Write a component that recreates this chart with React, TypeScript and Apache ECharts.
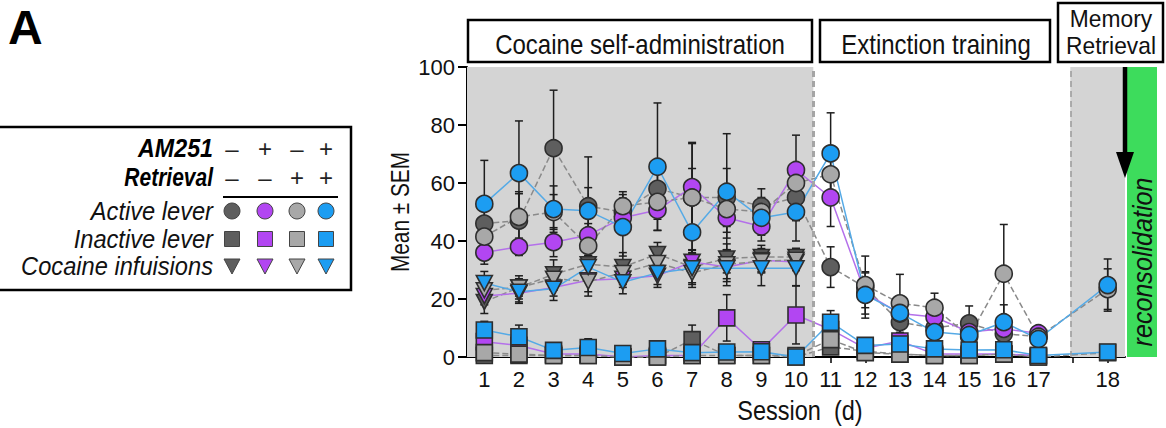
import React, { useEffect, useRef } from "react";
import * as echarts from "echarts";

// x positions: sessions 1-17 then a gap, session 18 plotted at position 19
const sessionPos = [1, 2, 3, 4, 5, 6, 7, 8, 9, 10, 11, 12, 13, 14, 15, 16, 17, 19];
const tickPositions = [1, 2, 3, 4, 5, 6, 7, 8, 9, 10, 11, 12, 13, 14, 15, 16, 17, 18, 19];
const tickLabels: Record<number, string> = {
  1: "1", 2: "2", 3: "3", 4: "4", 5: "5", 6: "6", 7: "7", 8: "8", 9: "9", 10: "10",
  11: "11", 12: "12", 13: "13", 14: "14", 15: "15", 16: "16", 17: "17", 18: "", 19: "18",
};
const yTicks = [0, 20, 40, 60, 80, 100];

const groupNames = ["AM251− Retrieval−", "AM251+ Retrieval−", "AM251− Retrieval+", "AM251+ Retrieval+"];
const amSigns = ["–", "+", "–", "+"];
const retSigns = ["–", "–", "+", "+"];

// Active lever (mean, SEM)
const activeG1 = [46, 47, 72, 52, 50, 58, 55, 55, 52, 55, 31, 24, 12, 10, 11.6, 8, 7, null];
const activeG2 = [36, 38, 39.6, 42, 48, 50.7, 58.6, 48, 45, 64.5, 55, 22, 15, 13.8, 8.6, 9.7, 8.2, null];
const activeG3 = [41.5, 48.3, 50, 38.3, 52, 53.5, 55, 51, 50, 60, 63, 24.8, 18.5, 17, 7, 28.7, 7, 23.4];
const activeG4 = [52.8, 63.4, 51, 50.4, 44.8, 65.6, 43, 57, 48, 50, 70.2, 21.4, 15.2, 8.6, 7.6, 12, 6.2, 24.8];
const activeSemG1 = [6, 10, 20, 17, 6, 8, 19, 10, 6, 8, 7, 5, 4, 4, 6, 4, 2, null];
const activeSemG2 = [4, 3, 5, 4, 4, 7, 15, 7, 5, 12, 10, 5, 4, 3, 3, 3, 2, null];
const activeSemG3 = [5, 8, 6, 5, 5, 6, 10, 8, 5, 6, 9, 10, 10, 5, 4, 17, 2, 7];
const activeSemG4 = [15, 18, 8, 8, 10, 22, 10, 20, 6, 10, 14, 8, 5, 4, 4, 6, 2, 9];

// Inactive lever
const inactiveG1 = [0.5, 0.5, 0.5, 0.5, 0, 0, 6, 0.5, 0.5, 0, 3.5, 2, 1, 0.5, 0.5, 1, 0, null];
const inactiveG2 = [5.3, 4, 1, 1, 0, 0.5, 0.5, 13.5, 2.5, 14.5, 9.5, 3, 5.5, 1, 1, 1, 0.5, null];
const inactiveG3 = [1.5, 1, 0.5, 0.5, 0, 0, 0.5, 0.5, 0.5, 0.5, 6, 1.5, 1, 0.5, 0.5, 1, 0, 1.5];
const inactiveG4 = [9.3, 7, 2.3, 3.3, 1.2, 2.8, 1.5, 1.7, 1.8, 0, 12, 4, 4.5, 2.8, 2.4, 2.5, 0.5, 1.7];
const inactiveSemG1 = [0.5, 0.5, 0.5, 0.5, 0, 0, 5, 0.5, 0.5, 0, 2, 1, 0.5, 0.5, 0.5, 0.5, 0, null];
const inactiveSemG2 = [2, 2, 1, 1, 0, 0.5, 0.5, 8, 1, 10, 3, 1, 2, 0.5, 0.5, 0.5, 0.5, null];
const inactiveSemG3 = [1, 1, 0.5, 0.5, 0, 0, 0.5, 0.5, 0.5, 0.5, 2, 1, 0.5, 0.5, 0.5, 0.5, 0, 1];
const inactiveSemG4 = [3, 4, 1, 3, 0.5, 1, 1, 1, 1, 0, 4, 2, 2, 1, 1, 1, 0.5, 1];

// Cocaine infusions (sessions 1-10)
const infusionG1 = [19, 24, 28.5, 32, 31, 35.5, 31, 34, 34.5, 34.5];
const infusionG2 = [21, 22, 24, 26.5, 27, 28, 32.8, 31, 33.4, 32.8];
const infusionG3 = [23, 24, 27, 26, 29, 32.4, 29, 32, 33, 33.5];
const infusionG4 = [25.5, 22.5, 23.5, 31, 25.8, 29, 30.6, 30.6, 30.6, 30.6];
const infusionSemG1 = [4, 3, 5, 4, 5, 4, 6, 5, 4, 3];
const infusionSemG2 = [3, 3, 3, 4, 3, 4, 4, 5, 4, 3];
const infusionSemG3 = [4, 4, 4, 5, 4, 4, 5, 5, 4, 3];
const infusionSemG4 = [4, 4, 4, 4, 4, 4, 5, 6, 6, 6];

const FONT = "'Liberation Sans', Arial, sans-serif";
const fillColors = ["#5e5e5e", "#b246f2", "#a8a8a8", "#1c9df2"];
const lineColors = ["#8a8a8a", "#b470ea", "#8a8a8a", "#55aae6"];
const lineTypes: ("dashed" | "solid")[] = ["dashed", "solid", "dashed", "solid"];
const borderColor = "#2e2e2e";

const measures = [
  { name: "Active lever", symbol: "circle", size: 17, means: [activeG1, activeG2, activeG3, activeG4], sems: [activeSemG1, activeSemG2, activeSemG3, activeSemG4] },
  { name: "Inactive lever", symbol: "rect", size: 16, means: [inactiveG1, inactiveG2, inactiveG3, inactiveG4], sems: [inactiveSemG1, inactiveSemG2, inactiveSemG3, inactiveSemG4] },
  { name: "Cocaine infuisions", symbol: "path://M0,0 L10,0 L5,9 Z", size: 16, means: [infusionG1, infusionG2, infusionG3, infusionG4], sems: [infusionSemG1, infusionSemG2, infusionSemG3, infusionSemG4] },
];

// narrow-looking text helper (scaled horizontally)
function narrowText(text: string, x: number, y: number, size: number, sx: number, opts: any = {}) {
  return {
    type: "text",
    x,
    y,
    z: 50 + (opts.zAdd || 0),
    rotation: opts.rotation || 0,
    scaleX: sx,
    scaleY: 1,
    style: {
      text,
      font: `${opts.style || ""} ${size}px ${FONT}`.trim(),
      fill: opts.fill || "#111",
      align: opts.align || "center",
      verticalAlign: "middle",
    },
  };
}

function buildOption() {
  const series: any[] = [];
  // background shading + dashed dividers
  series.push({
    type: "line",
    name: "bg",
    data: [],
    silent: true,
    z: 0,
    markArea: {
      silent: true,
      itemStyle: { color: "#d4d4d4" },
      data: [
        [{ xAxis: 0.5, yAxis: 0 }, { xAxis: 10.5, yAxis: 100 }],
        [{ xAxis: 17.92, yAxis: 0 }, { xAxis: 19.5, yAxis: 100 }],
      ],
    },
    markLine: {
      silent: true,
      symbol: "none",
      label: { show: false },
      data: [
        { xAxis: 10.5, lineStyle: { color: "#a5a5a5", type: [6, 4], width: 3 } },
        { xAxis: 17.92, lineStyle: { color: "#9a9a9a", type: [6, 4], width: 1.5 } },
      ],
    },
  });

  // error bars
  measures.forEach((m) => {
    m.means.forEach((arr, g) => {
      const data: number[][] = [];
      arr.forEach((v, i) => {
        const s = m.sems[g][i];
        if (v == null || s == null) return;
        data.push([sessionPos[i], Math.max(0, v - s), v + s]);
      });
      series.push({
        type: "custom",
        name: `${m.name} err ${groupNames[g]}`,
        z: 2,
        silent: true,
        data,
        encode: { x: 0, y: [1, 2] },
        renderItem: (params: any, api: any) => {
          const x = api.value(0);
          const lo = api.value(1);
          const hi = api.value(2);
          const p1 = api.coord([x, hi]);
          const p2 = api.coord([x, lo]);
          const w = 4;
          const st = { stroke: "#1e1e1e", lineWidth: 1.5 };
          return {
            type: "group",
            children: [
              { type: "line", shape: { x1: p1[0], y1: p1[1], x2: p2[0], y2: p2[1] }, style: st },
              { type: "line", shape: { x1: p1[0] - w, y1: p1[1], x2: p1[0] + w, y2: p1[1] }, style: st },
              { type: "line", shape: { x1: p2[0] - w, y1: p2[1], x2: p2[0] + w, y2: p2[1] }, style: st },
            ],
          };
        },
      });
    });
  });

  // lines + markers, ordered by group so later groups sit on top
  [0, 1, 2, 3].forEach((g) => {
    measures.forEach((m) => {
      const data: (number | null)[][] = [];
      m.means[g].forEach((v, i) => {
        if (v == null) return;
        data.push([sessionPos[i], v]);
      });
      series.push({
        type: "line",
        name: `${m.name} ${groupNames[g]}`,
        z: 3,
        data,
        symbol: m.symbol,
        symbolSize: m.symbol.startsWith("path") ? [16, 15] : m.size,
        showSymbol: true,
        lineStyle: { color: lineColors[g], width: 1.5, type: lineTypes[g] },
        itemStyle: { color: fillColors[g], borderColor, borderWidth: 1.6, opacity: 1 },
      });
    });
  });

  const graphics: any[] = [];
  const Z = 50;
  // Panel letter
  graphics.push({ type: "text", left: 8, top: 3, z: Z, style: { text: "A", font: `bold 48px ${FONT}`, fill: "#000" } });

  // Axis titles
  graphics.push(narrowText("Mean ± SEM", 400, 212, 26, 0.8, { rotation: Math.PI / 2 }));
  graphics.push(narrowText("Session  (d)", 800, 410, 27, 0.87));

  // Phase header boxes
  const boxes = [
    { x: 468, y: 20, w: 344, h: 42 },
    { x: 820, y: 20, w: 230, h: 42 },
    { x: 1058, y: 3, w: 105, h: 59 },
  ];
  boxes.forEach((b) => {
    graphics.push({ type: "rect", z: Z, shape: { x: b.x, y: b.y, width: b.w, height: b.h }, style: { fill: "#fff", stroke: "#000", lineWidth: 2.5 } });
  });
  graphics.push(narrowText("Cocaine self-administration", 640, 44, 27, 0.89, { zAdd: 1 }));
  graphics.push(narrowText("Extinction training", 936, 44, 27, 0.89, { zAdd: 1 }));
  graphics.push(narrowText("Memory", 1111, 19, 24, 0.95, { zAdd: 1 }));
  graphics.push(narrowText("Retrieval", 1111, 46, 24, 0.95, { zAdd: 1 }));

  // Reconsolidation bar + arrow
  graphics.push({ type: "rect", z: Z, shape: { x: 1127, y: 67, width: 30, height: 290 }, style: { fill: "#3ddc5c" } });
  graphics.push(narrowText("reconsolidation", 1143, 262, 27, 0.93, { rotation: Math.PI / 2, style: "italic", zAdd: 1 }));
  graphics.push({ type: "line", z: Z + 2, shape: { x1: 1125, y1: 67, x2: 1125, y2: 160 }, style: { stroke: "#000", lineWidth: 4.5 } });
  graphics.push({ type: "polygon", z: Z + 2, shape: { points: [[1116, 152], [1134, 152], [1125, 178]] }, style: { fill: "#000" } });

  // Legend box
  graphics.push({ type: "rect", z: Z, shape: { x: -3, y: 127, width: 354, height: 163 }, style: { fill: "#fff", stroke: "#000", lineWidth: 2.5 } });
  const colX = [232, 265, 297, 326];
  const textRight = 213;
  graphics.push(narrowText("AM251", textRight, 148, 25, 0.93, { style: "italic bold", align: "right", fill: "#000", zAdd: 1 }));
  graphics.push(narrowText("Retrieval", textRight, 177, 25, 0.84, { style: "italic bold", align: "right", fill: "#000", zAdd: 1 }));
  colX.forEach((cx, g) => {
    graphics.push(narrowText(amSigns[g], cx, 148, 24, 1, { fill: "#222", zAdd: 1 }));
    graphics.push(narrowText(retSigns[g], cx, 177, 24, 1, { fill: "#222", zAdd: 1 }));
  });
  graphics.push({ type: "line", z: Z + 1, shape: { x1: 223, y1: 197, x2: 338, y2: 197 }, style: { stroke: "#000", lineWidth: 2 } });
  const rowY = [211, 239, 266];
  measures.forEach((m, r) => {
    graphics.push(narrowText(m.name, textRight, rowY[r], 26, 0.91, { style: "italic", align: "right", zAdd: 1 }));
    colX.forEach((cx, g) => {
      const st = { fill: fillColors[g], stroke: "#444", lineWidth: 1 };
      if (r === 0) graphics.push({ type: "circle", z: Z + 1, shape: { cx, cy: rowY[r], r: 8 }, style: st });
      else if (r === 1) graphics.push({ type: "rect", z: Z + 1, shape: { x: cx - 7.5, y: rowY[r] - 7.5, width: 15, height: 15 }, style: st });
      else graphics.push({ type: "polygon", z: Z + 1, shape: { points: [[cx - 8, rowY[r] - 7], [cx + 8, rowY[r] - 7], [cx, rowY[r] + 8]] }, style: st });
    });
  });

  return {
    animation: false,
    backgroundColor: "#fff",
    textStyle: { fontFamily: FONT },
    grid: { left: 467, right: 41, top: 67, bottom: 71, containLabel: false },
    xAxis: {
      type: "value",
      min: 0.5,
      max: 19.5,
      axisLine: { lineStyle: { color: "#000", width: 2 } },
      axisTick: { show: true, customValues: tickPositions, length: 6, lineStyle: { color: "#000", width: 1.5 } },
      axisLabel: {
        customValues: tickPositions,
        formatter: (v: number) => tickLabels[Math.round(v)] ?? "",
        fontSize: 22,
        color: "#111",
        margin: 11,
        fontFamily: FONT,
      },
      splitLine: { show: false },
    },
    yAxis: {
      type: "value",
      min: 0,
      max: 100,
      interval: 20,
      axisLine: { show: true, lineStyle: { color: "#000", width: 2 } },
      axisTick: { show: true, length: 9, lineStyle: { color: "#000", width: 2 } },
      axisLabel: { fontSize: 22, color: "#111", margin: 12, fontFamily: FONT, customValues: yTicks },
      splitLine: { show: false },
    },
    graphic: graphics,
    series,
  };
}

export default function App() {
  const ref = useRef<HTMLDivElement>(null);
  useEffect(() => {
    document.body.style.margin = "0";
    if (!ref.current) return;
    const chart = echarts.init(ref.current, undefined, { renderer: "svg" });
    chart.setOption(buildOption() as any);
    return () => chart.dispose();
  }, []);
  return <div ref={ref} style={{ width: 1166, height: 428 }} />;
}
